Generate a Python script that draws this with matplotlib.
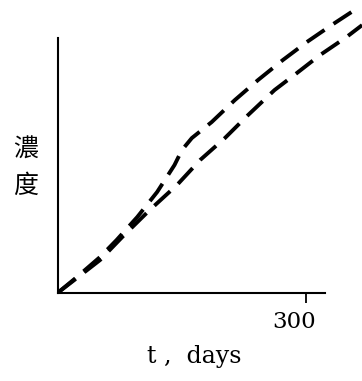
import numpy as np
import matplotlib
matplotlib.use("Agg")
import matplotlib.pyplot as plt
import matplotlib.transforms as mtransforms

# 上側の曲線 (t [days], 濃度 任意単位)
t_upper = [1, 23, 51, 71, 96, 120, 141, 150, 162, 186, 214, 242, 272, 301, 331, 355]
c_upper = [1, 16, 36, 53, 76, 101, 128, 143, 155, 171, 193, 213, 233, 251, 268, 281]

# 下側の曲線
t_lower = [1, 23, 51, 79, 111, 144, 172, 202, 230, 262, 289, 317, 349, 368]
c_lower = [1, 15, 33, 57, 83, 108, 133, 155, 178, 203, 220, 238, 256, 268]

x_ticks = [300]
x_ticklabels = ["300"]

fig = plt.figure(figsize=(3.62, 3.81), dpi=100)
ax = fig.add_axes([0.160, 0.231, 0.7376, 0.669])

for t, c in [(t_upper, c_upper), (t_lower, c_lower)]:
    ax.plot(t, c, color="black", lw=2.8, dashes=(5.5, 2.8),
            dash_capstyle="butt", clip_on=False)

ax.set_xlim(0, 323)
ax.set_ylim(0, 255)

for s in ["top", "right"]:
    ax.spines[s].set_visible(False)
for s in ["left", "bottom"]:
    ax.spines[s].set_linewidth(1.5)

ax.set_xticks(x_ticks)
ax.set_xticklabels(x_ticklabels, fontfamily="DejaVu Serif", fontsize=16.5)
ax.tick_params(axis="x", length=7, width=1.3, pad=6, direction="out")
ax.set_yticks([])
# ラベルは目盛りより少し左
shift = mtransforms.ScaledTranslation(-12 / 100, 0, fig.dpi_scale_trans)
for lab in ax.get_xticklabels():
    lab.set_transform(lab.get_transform() + shift)

fig.text(194 / 362, 1 - 357 / 381, "t ,  days", fontfamily="DejaVu Serif",
         fontsize=17, ha="center", va="center")

fig.text(26 / 362, 1 - 150 / 381, "濃", fontfamily="Noto Sans CJK TC",
         fontsize=18, ha="center", va="center")
fig.text(26 / 362, 1 - 186 / 381, "度", fontfamily="Noto Sans CJK TC",
         fontsize=18, ha="center", va="center")

fig.savefig("out.png", dpi=100)
